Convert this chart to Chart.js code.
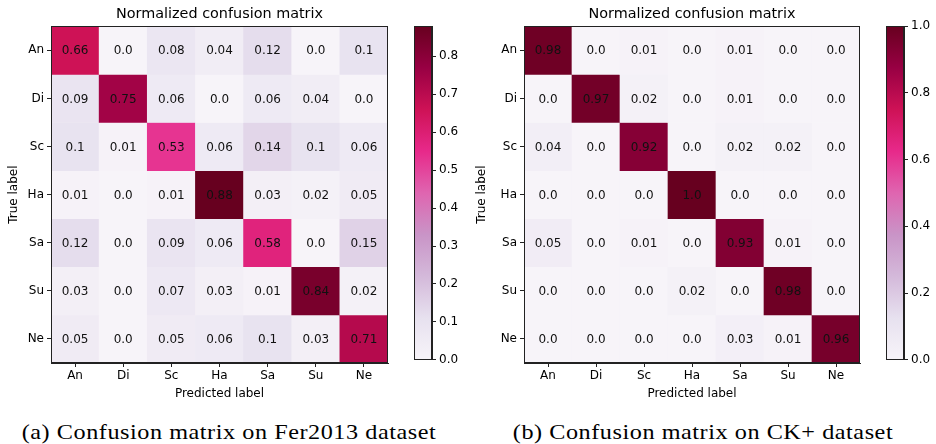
<!DOCTYPE html>
<html>
<head>
<meta charset="utf-8">
<script src="https://cdn.jsdelivr.net/npm/chart.js@4.4.0/dist/chart.umd.min.js"></script>
<style>
  body { margin: 0; background: #fff; width: 936px; height: 444px; position: relative; overflow: hidden; }
  canvas { position: absolute; top: 0; }
  .cap { position: absolute; top: 419px; transform: translateX(-50%) scaleX(1.1); white-space: nowrap;
         font-family: "Liberation Serif", serif; font-size: 22px; letter-spacing: 0.5px; color: #000; }
</style>
</head>
<body>
<canvas id="ferMatrix" width="400" height="405" style="left:0px"></canvas>
<canvas id="ferBar" width="60" height="370" style="left:405px"></canvas>
<canvas id="ckMatrix" width="400" height="405" style="left:468px"></canvas>
<canvas id="ckBar" width="59" height="370" style="left:877px"></canvas>
<div class="cap" style="left:229px">(a) Confusion matrix on Fer2013 dataset</div>
<div class="cap" style="left:703px">(b) Confusion matrix on CK+ dataset</div>
<script>
// emotion classes, rows = true label, columns = predicted label
const labels = ['An', 'Di', 'Sc', 'Ha', 'Sa', 'Su', 'Ne'];

const ferValues = [
    [0.66, 0.0, 0.08, 0.04, 0.12, 0.0, 0.1],
    [0.09, 0.75, 0.06, 0.0, 0.06, 0.04, 0.0],
    [0.1, 0.01, 0.53, 0.06, 0.14, 0.1, 0.06],
    [0.01, 0.0, 0.01, 0.88, 0.03, 0.02, 0.05],
    [0.12, 0.0, 0.09, 0.06, 0.58, 0.0, 0.15],
    [0.03, 0.0, 0.07, 0.03, 0.01, 0.84, 0.02],
    [0.05, 0.0, 0.05, 0.06, 0.1, 0.03, 0.71]
];

const ckValues = [
    [0.98, 0.0, 0.01, 0.0, 0.01, 0.0, 0.0],
    [0.0, 0.97, 0.02, 0.0, 0.01, 0.0, 0.0],
    [0.04, 0.0, 0.92, 0.0, 0.02, 0.02, 0.0],
    [0.0, 0.0, 0.0, 1.0, 0.0, 0.0, 0.0],
    [0.05, 0.0, 0.01, 0.0, 0.93, 0.01, 0.0],
    [0.0, 0.0, 0.0, 0.02, 0.0, 0.98, 0.0],
    [0.0, 0.0, 0.0, 0.0, 0.03, 0.01, 0.96]
];

const ferTicks = [0.0, 0.1, 0.2, 0.3, 0.4, 0.5, 0.6, 0.7, 0.8];
const ckTicks = [0.0, 0.2, 0.4, 0.6, 0.8, 1.0];

// matplotlib PuRd
const puRd = ['#f7f4f9', '#e7e1ef', '#d4b9da', '#c994c7', '#df65b0', '#e7298a', '#ce1256', '#980043', '#67001f'];

Chart.defaults.font.family = 'DejaVu Sans';
Chart.defaults.color = '#000';

function hexToRgb(h) {
    return [1, 3, 5].map(i => parseInt(h.substr(i, 2), 16));
}

function cmap(t) {
    t = Math.max(0, Math.min(1, t));
    let p = t * (puRd.length - 1);
    let i = Math.min(Math.floor(p), puRd.length - 2);
    let f = p - i;
    let a = hexToRgb(puRd[i]), b = hexToRgb(puRd[i + 1]);
    let c = a.map((v, k) => Math.round(v + (b[k] - v) * f));
    return `rgb(${c[0]}, ${c[1]}, ${c[2]})`;
}

function fmt(v) {
    let s = String(v);
    return s.includes('.') ? s : s + '.0';
}

const frame = {
    id: 'frame',
    afterDraw(chart) {
        let a = chart.chartArea;
        let ctx = chart.ctx;
        ctx.save();
        ctx.strokeStyle = '#222';
        ctx.lineWidth = 1;
        ctx.strokeRect(Math.round(a.left) + 0.5, Math.round(a.top) + 0.5,
            Math.round(a.right - a.left) - 1, Math.round(a.bottom - a.top) - 1);
        ctx.restore();
    }
};

const cellText = {
    id: 'cellText',
    afterDatasetsDraw(chart) {
        let ctx = chart.ctx;
        ctx.save();
        ctx.font = '12px "DejaVu Sans"';
        ctx.fillStyle = '#111';
        ctx.textAlign = 'center';
        ctx.textBaseline = 'middle';
        chart.data.datasets.forEach((ds, i) => {
            chart.getDatasetMeta(i).data.forEach((bar, j) => {
                ctx.fillText(fmt(ds.cellValues[j]), bar.x, (bar.y + bar.base) / 2 + 1);
            });
        });
        ctx.restore();
    }
};

function matrixChart(id, values, yWidth, padRight) {
    const vmax = Math.max(...values.flat());
    const datasets = values.map((row, r) => ({
        label: labels[r],
        data: row.map(() => 1),
        cellValues: row,
        backgroundColor: row.map(v => cmap(v / vmax)),
        borderWidth: 0,
        barPercentage: 1,
        categoryPercentage: 1
    }));
    const config = {
        type: 'bar',
        data: { labels: labels, datasets: datasets },
        options: {
            responsive: false,
            animation: false,
            layout: { padding: { right: padRight } },
            plugins: {
                legend: { display: false },
                tooltip: { enabled: false },
                title: {
                    display: true,
                    fullSize: false,
                    text: 'Normalized confusion matrix',
                    font: { size: 14.4, weight: 'normal' },
                    color: '#000',
                    padding: { top: 6, bottom: 3 }
                }
            },
            scales: {
                x: {
                    stacked: true,
                    grid: { offset: false, drawOnChartArea: false, tickLength: 4, color: '#222' },
                    border: { color: '#222' },
                    ticks: { font: { size: 12 }, padding: 2, color: '#000' },
                    title: { display: true, text: 'Predicted label', font: { size: 12 }, color: '#000', padding: 4 },
                    afterFit: s => { s.height = 42; }
                },
                y: {
                    type: 'linear',
                    stacked: true,
                    reverse: true,
                    min: 0,
                    max: labels.length,
                    afterBuildTicks: s => { s.ticks = labels.map((_, i) => ({ value: i + 0.5 })); },
                    grid: { drawOnChartArea: false, tickLength: 4, color: '#222' },
                    border: { color: '#222' },
                    ticks: { callback: v => labels[Math.floor(v)], font: { size: 12 }, padding: 3, color: '#000', autoSkip: false },
                    title: { display: true, text: 'True label', font: { size: 12 }, color: '#000', padding: { top: 7, bottom: 0 } },
                    afterFit: s => { s.width = yWidth; }
                }
            }
        },
        plugins: [cellText, frame]
    };
    new Chart(document.getElementById(id).getContext('2d'), config);
}

function colorbar(id, values, ticks, axisWidth) {
    const vmax = Math.max(...values.flat());
    const config = {
        type: 'bar',
        data: {
            labels: [''],
            datasets: [{
                data: [vmax],
                backgroundColor: c => {
                    let a = c.chart.chartArea;
                    if (!a) return null;
                    let g = c.chart.ctx.createLinearGradient(0, a.bottom, 0, a.top);
                    puRd.forEach((col, i) => g.addColorStop(i / (puRd.length - 1), col));
                    return g;
                },
                borderWidth: 0,
                barPercentage: 1,
                categoryPercentage: 1
            }]
        },
        options: {
            responsive: false,
            animation: false,
            layout: { padding: { left: 9, top: 26, bottom: 6 } },
            plugins: { legend: { display: false }, tooltip: { enabled: false } },
            scales: {
                x: { display: false },
                y: {
                    position: 'right',
                    min: 0,
                    max: vmax,
                    afterBuildTicks: s => { s.ticks = ticks.map(v => ({ value: v })); },
                    grid: { drawOnChartArea: false, tickLength: 4, color: '#222' },
                    border: { color: '#222' },
                    ticks: { callback: v => v.toFixed(1), font: { size: 12 }, padding: 3, color: '#000' },
                    afterFit: s => { s.width = axisWidth; }
                }
            }
        },
        plugins: [frame]
    };
    new Chart(document.getElementById(id).getContext('2d'), config);
}

matrixChart('ferMatrix', ferValues, 51, 12);
colorbar('ferBar', ferValues, ferTicks, 33);
matrixChart('ckMatrix', ckValues, 56, 8);
colorbar('ckBar', ckValues, ckTicks, 32);
</script>
</body>
</html>
